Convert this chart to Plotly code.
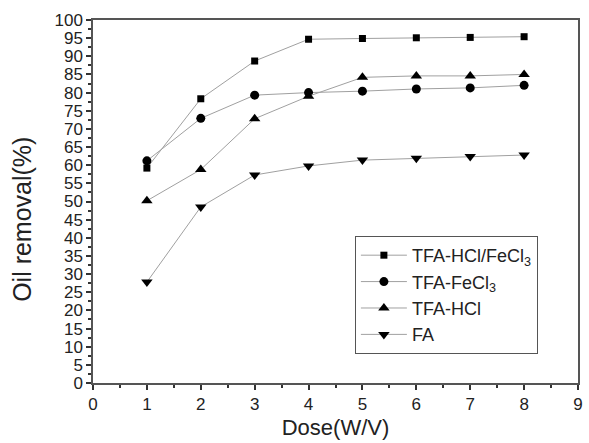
import plotly.graph_objects as go

dose = [1, 2, 3, 4, 5, 6, 7, 8]
tfa_hcl_fecl3 = [59.2, 78.3, 88.7, 94.7, 94.9, 95.1, 95.2, 95.4]
tfa_fecl3 = [61.2, 72.9, 79.3, 80.0, 80.4, 81.0, 81.3, 82.0]
tfa_hcl = [50.2, 58.8, 72.8, 79.0, 84.2, 84.6, 84.6, 85.0]
fa = [27.8, 48.5, 57.3, 59.8, 61.4, 61.9, 62.4, 62.8]

names = ["TFA-HCl/FeCl<sub>3</sub>", "TFA-FeCl<sub>3</sub>", "TFA-HCl", "FA"]
series = [tfa_hcl_fecl3, tfa_fecl3, tfa_hcl, fa]
symbols = ["square", "circle", "triangle-up", "triangle-down"]
sizes = [7, 9, 10, 10]

fig = go.Figure()
for n, s, sym, sz in zip(names, series, symbols, sizes):
    fig.add_trace(go.Scatter(
        x=dose, y=s, name=n, mode="lines+markers",
        line=dict(color="#a0a0a0", width=1),
        marker=dict(symbol=sym, size=sz, color="black"),
    ))

font = "Liberation Sans, Arial, sans-serif"
fig.update_layout(
    width=589, height=443,
    margin=dict(l=93, r=6, t=20, b=60),
    paper_bgcolor="white", plot_bgcolor="white",
    font=dict(family=font, color="#222", size=17),
    showlegend=True,
    legend=dict(
        x=0.54, y=0.405, xanchor="left", yanchor="top",
        bordercolor="#555", borderwidth=1, bgcolor="white",
        font=dict(size=18, family=font), tracegroupgap=1, itemwidth=46,
    ),
    xaxis=dict(
        range=[0, 9], tickmode="linear", tick0=0, dtick=1,
        ticks="outside", ticklen=5, tickwidth=1.5, tickcolor="#333",
        showline=True, linecolor="#555", linewidth=1.5, mirror=True,
        showgrid=False, zeroline=False,
        minor=dict(ticks="outside", ticklen=3, dtick=0.5, tickcolor="#333", showgrid=False),
        title=dict(text="Dose(W/V)", font=dict(size=22), standoff=6),
        tickfont=dict(size=17),
    ),
    yaxis=dict(
        range=[0, 100], tickmode="linear", tick0=0, dtick=5,
        ticks="outside", ticklen=5, tickwidth=1.5, tickcolor="#333",
        showline=True, linecolor="#555", linewidth=1.5, mirror=True,
        showgrid=False, zeroline=False,
        minor=dict(ticks="outside", ticklen=3, dtick=2.5, tickcolor="#333", showgrid=False),
        tickfont=dict(size=17),
    ),
    annotations=[dict(
        text="Oil removal(%)", textangle=-90, showarrow=False,
        xref="paper", yref="paper", x=-0.148, y=0.45,
        xanchor="center", yanchor="middle",
        font=dict(size=25, family=font, color="#222"),
    )],
)

fig.write_html("out.html")
